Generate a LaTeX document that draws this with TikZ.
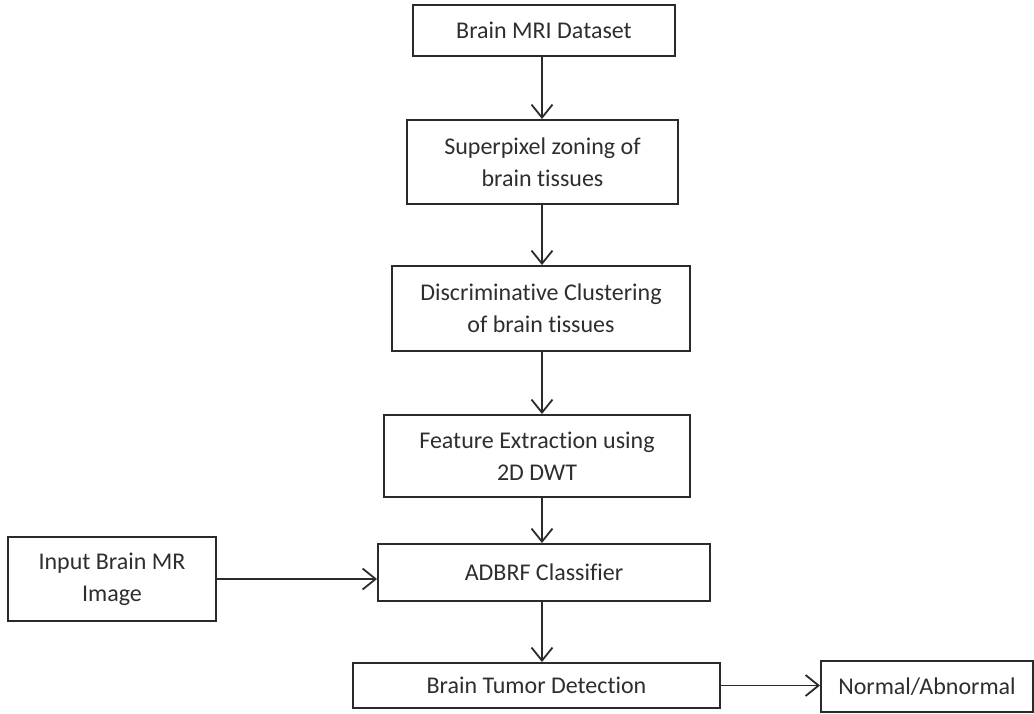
\documentclass[tikz,border=0pt]{standalone}
\usepackage{fontspec}
\setmainfont{Carlito}[Ligatures=NoCommon]
\usetikzlibrary{arrows.meta}
\definecolor{ink}{HTML}{2A2A2A}
\definecolor{txt}{HTML}{2E2E2E}
\tikzset{
  flowbox/.style={draw=ink, line width=2pt, inner sep=0pt, align=center,
    text=txt, font=\fontsize{24}{32}\selectfont},
  flowarrow/.style={draw=ink, line width=1.8pt,
    -{Straight Barb[length=13pt,width=21pt,line width=1.8pt]}}
}
\begin{document}
\begin{tikzpicture}[x=1pt,y=-1pt]
\useasboundingbox (0,0) rectangle (1034,713);
\node[flowbox, minimum width=262pt, minimum height=51pt] (b1) at (544,30.5) {Brain MRI Dataset};
\node[flowbox, minimum width=271pt, minimum height=84pt] (b2) at (542.5,162) {Superpixel zoning of\\brain tissues};
\node[flowbox, minimum width=298pt, minimum height=85pt] (b3) at (541,308.5) {Discriminative Clustering\\of brain tissues};
\node[flowbox, minimum width=306pt, minimum height=82pt] (b4) at (537,456) {Feature Extraction using\\2D DWT};
\node[flowbox, minimum width=332pt, minimum height=57pt] (b5) at (544,572.5) {ADBRF Classifier};
\node[flowbox, minimum width=208pt, minimum height=84pt] (b6) at (112,579) {Input Brain MR\\Image};
\node[flowbox, minimum width=367pt, minimum height=45pt] (b7) at (536.5,685.5) {Brain Tumor Detection};
\node[flowbox, minimum width=212pt, minimum height=51pt] (b8) at (927,686.5) {Normal/Abnormal};
\coordinate (ax) at (542,0);
\draw[flowarrow] (b1.south -| ax) -- (b2.north -| ax);
\draw[flowarrow] (b2.south -| ax) -- (b3.north -| ax);
\draw[flowarrow] (b3.south -| ax) -- (b4.north -| ax);
\draw[flowarrow] (b4.south -| ax) -- (b5.north -| ax);
\draw[flowarrow] (b5.south -| ax) -- (b7.north -| ax);
\draw[flowarrow] (b6.east) -- (b5.west |- b6.east);
\draw[flowarrow] (b7.east) -- (b8.west |- b7.east);
\end{tikzpicture}
\end{document}
